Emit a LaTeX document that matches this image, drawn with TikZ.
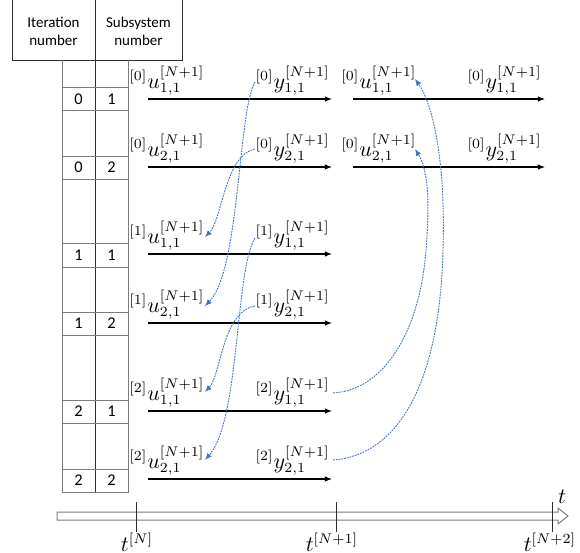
\documentclass[tikz,border=0pt]{standalone}
\usepackage{fontspec}
\newfontfamily\tabfont{Carlito}
\usetikzlibrary{arrows.meta}
\definecolor{linkblue}{RGB}{68,114,196}
\definecolor{gridgray}{RGB}{125,125,125}
\definecolor{darkline}{RGB}{45,45,45}
\begin{document}
\begin{tikzpicture}[x=0.5pt,y=-0.5pt,
  lbl/.style={inner sep=0pt,font=\fontsize{10.5}{12}\selectfont},
  tab/.style={inner sep=0pt,font=\tabfont\fontsize{8.2}{9}\selectfont},
  head/.style={inner sep=0pt,align=center,font=\tabfont\fontsize{7.5}{9}\selectfont},
  grid/.style={draw=gridgray,line width=0.45pt},
  frame/.style={draw=darkline,line width=0.5pt},
  flow/.style={draw=black,line width=0.55pt,-{Latex[length=3.6pt,width=2.8pt]}},
  link/.style={draw=linkblue,line width=0.45pt,dash pattern=on 0.9pt off 0.5pt,
    -{Latex[length=3.4pt,width=2.8pt]}},
  axis/.style={draw=gridgray,line width=0.5pt,fill=white}]
\useasboundingbox (0,0) rectangle (580,553);

% ---- header of the table
\draw[frame] (12,0) -- (12,60) -- (182,60) -- (182,0);
\draw[frame] (95,0) -- (95,60);
\node[head] (hit) at (53.5,31) {Iteration\\number};
\node[head] (hsub) at (138.5,31) {Subsystem\\number};

% ---- column of iteration / subsystem indices
\draw[grid] (62,60) -- (62,492) -- (128,492) -- (128,60);
\draw[frame] (95,60) -- (95,492);
\foreach \ya/\yb in {87/110,156/179,243/267,312/335,400/423,469/492}{
  \draw[grid] (62,\ya) -- (128,\ya);
  \draw[grid] (62,\yb) -- (128,\yb);
}
\foreach \y/\i/\s/\nm in {99/0/1/a,167/0/2/b,255/1/1/c,323.5/1/2/d,411.5/2/1/e,480.5/2/2/f}{
  \node[tab] (it\nm) at (78.5,\y) {\i};
  \node[tab] (ss\nm) at (111.5,\y) {\s};
}

% ---- time flow arrows of each subsystem
\foreach \y/\nm in {99/a,167/b,254/c,323/d,411/e,479/f}{
  \coordinate (ls\nm) at (148,\y);
  \coordinate (le\nm) at (332,\y);
  \draw[flow] (ls\nm) -- (le\nm);
}
\foreach \y/\nm in {99/a,167/b}{
  \coordinate (rs\nm) at (353,\y);
  \coordinate (re\nm) at (545,\y);
  \draw[flow] (rs\nm) -- (re\nm);
}

% ---- inputs and outputs, first interval
\node[lbl,anchor=base west] (u011) at (129,88) {${}^{[0]}u_{1,1}^{[N+1]}$};
\node[lbl,anchor=base east] (y011) at (330,88) {${}^{[0]}y_{1,1}^{[N+1]}$};
\node[lbl,anchor=base west] (u021) at (129,156) {${}^{[0]}u_{2,1}^{[N+1]}$};
\node[lbl,anchor=base east] (y021) at (330,156) {${}^{[0]}y_{2,1}^{[N+1]}$};
\node[lbl,anchor=base west] (u111) at (129,243) {${}^{[1]}u_{1,1}^{[N+1]}$};
\node[lbl,anchor=base east] (y111) at (330,243) {${}^{[1]}y_{1,1}^{[N+1]}$};
\node[lbl,anchor=base west] (u121) at (129,312) {${}^{[1]}u_{2,1}^{[N+1]}$};
\node[lbl,anchor=base east] (y121) at (330,312) {${}^{[1]}y_{2,1}^{[N+1]}$};
\node[lbl,anchor=base west] (u211) at (129,400) {${}^{[2]}u_{1,1}^{[N+1]}$};
\node[lbl,anchor=base east] (y211) at (330,400) {${}^{[2]}y_{1,1}^{[N+1]}$};
\node[lbl,anchor=base west] (u221) at (129,468) {${}^{[2]}u_{2,1}^{[N+1]}$};
\node[lbl,anchor=base east] (y221) at (330,468) {${}^{[2]}y_{2,1}^{[N+1]}$};

% ---- inputs and outputs, next interval
\node[lbl,anchor=base west] (v011) at (341,88) {${}^{[0]}u_{1,1}^{[N+1]}$};
\node[lbl,anchor=base east] (w011) at (542,88) {${}^{[0]}y_{1,1}^{[N+1]}$};
\node[lbl,anchor=base west] (v021) at (341,156) {${}^{[0]}u_{2,1}^{[N+1]}$};
\node[lbl,anchor=base east] (w021) at (542,156) {${}^{[0]}y_{2,1}^{[N+1]}$};

% ---- exchange of coupling data between iterations
\coordinate (o011) at (255,82);  \coordinate (i121) at (205,306);
\coordinate (o021) at (255,149); \coordinate (i111) at (205,237);
\coordinate (o111) at (255,238); \coordinate (i221) at (205,460);
\coordinate (o121) at (255,306); \coordinate (i211) at (205,392);
\coordinate (o211) at (333,393); \coordinate (j021) at (415,149);
\coordinate (o221) at (333,460); \coordinate (j011) at (415,79);
\draw[link] (o011) .. controls (238,110) and (240,270) .. (i121);
\draw[link] (o021) .. controls (225,155) and (222,220) .. (i111);
\draw[link] (o111) .. controls (235,270) and (240,420) .. (i221);
\draw[link] (o121) .. controls (222,312) and (221,375) .. (i211);
\draw[link] (o211) .. controls (385,390) and (420,330) .. (426,250)
                   .. controls (430,200) and (428,170) .. (j021);
\draw[link] (o221) .. controls (400,455) and (440,380) .. (443,250)
                   .. controls (446,150) and (430,100) .. (j011);

% ---- time axis
\draw[axis] (57,512) -- (558,512) -- (558,508) -- (568,516) -- (558,524)
  -- (558,520) -- (57,520) -- cycle;
\foreach \x/\nm in {136/n0,336/n1,552/n2}{
  \coordinate (tt\nm) at (\x,502);
  \coordinate (tb\nm) at (\x,532);
  \draw[draw=darkline,line width=0.5pt] (tt\nm) -- (tb\nm);
}
\node[lbl,anchor=base] (tn0) at (137,551) {$t^{[N]}$};
\node[lbl,anchor=base] (tn1) at (332,551) {$t^{[N+1]}$};
\node[lbl,anchor=base] (tn2) at (550,551) {$t^{[N+2]}$};
\node[lbl,anchor=base] (tax) at (562,503) {$t$};
\end{tikzpicture}
\end{document}
